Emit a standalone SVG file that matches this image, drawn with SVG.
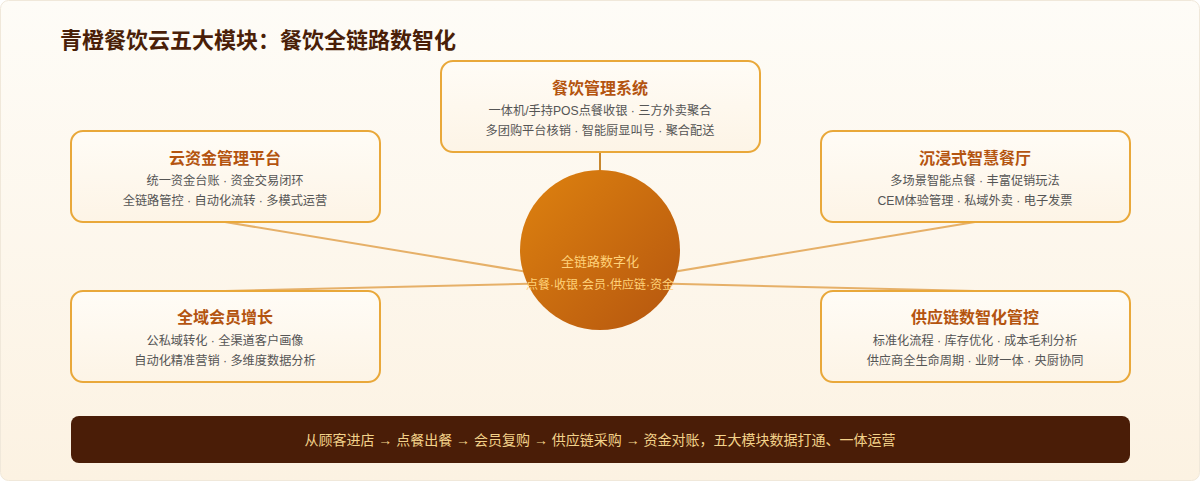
<svg xmlns="http://www.w3.org/2000/svg" width="1200" height="481" viewBox="0 0 1200 481">
<defs>
<linearGradient id="bg" x1="0" y1="0" x2="0" y2="1">
<stop offset="0" stop-color="#fefcf7"/>
<stop offset="1" stop-color="#fcf2e2"/>
</linearGradient>
<linearGradient id="hub" x1="0" y1="0" x2="1" y2="1">
<stop offset="0" stop-color="#de820f"/>
<stop offset="1" stop-color="#b5560f"/>
</linearGradient>
<linearGradient id="card" x1="0" y1="0" x2="0" y2="1">
<stop offset="0" stop-color="#fffcf6"/>
<stop offset="1" stop-color="#fdf4e6"/>
</linearGradient>
<style>
.card{fill:url(#card);stroke:#e9a83a;stroke-width:2}
.t{font-family:"Liberation Sans","Noto Sans CJK SC",sans-serif;text-anchor:middle}
.h{font-size:16px;font-weight:bold;fill:#b4540f}
.b{font-size:12.2px;fill:#555}
.ln{stroke:#e6b068;stroke-width:2;fill:none}
</style>
</defs>
<rect x="0.5" y="0.5" width="1199" height="480" rx="8" fill="url(#bg)" stroke="#f0e8da"/>
<text x="60" y="48" font-family="Liberation Sans,Noto Sans CJK SC,sans-serif" font-size="22" font-weight="bold" fill="#4a1f08">青橙餐饮云五大模块：餐饮全链路数智化</text>
<g id="connectors">
<line class="ln" x1="600" y1="152" x2="600" y2="172" style="stroke:#c8882e"/>
<line class="ln" x1="225" y1="222" x2="600" y2="284"/>
<line class="ln" x1="975" y1="222" x2="600" y2="284"/>
<line class="ln" x1="225" y1="291" x2="600" y2="282"/>
<line class="ln" x1="975" y1="291" x2="600" y2="282"/>
</g>
<g id="hub">
<circle cx="600" cy="250" r="80" fill="url(#hub)"/>
<text class="t" x="600" y="266" font-size="13" fill="#ffd27a">全链路数字化</text>
<text class="t" x="600" y="289" font-size="12" fill="#ffd27a">点餐·收银·会员·供应链·资金</text>
</g>
<g id="node-pos">
<rect class="card" x="441" y="61" width="319" height="91" rx="12"/>
<text class="t h" x="600" y="94">餐饮管理系统</text>
<text class="t b" x="600" y="115">一体机/手持POS点餐收银 · 三方外卖聚合</text>
<text class="t b" x="600" y="135">多团购平台核销 · 智能厨显叫号 · 聚合配送</text>
</g>
<g id="node-fund">
<rect class="card" x="71" y="131" width="309" height="91" rx="12"/>
<text class="t h" x="225" y="164">云资金管理平台</text>
<text class="t b" x="225" y="185">统一资金台账 · 资金交易闭环</text>
<text class="t b" x="225" y="205">全链路管控 · 自动化流转 · 多模式运营</text>
</g>
<g id="node-restaurant">
<rect class="card" x="821" y="131" width="309" height="91" rx="12"/>
<text class="t h" x="975" y="164">沉浸式智慧餐厅</text>
<text class="t b" x="975" y="185">多场景智能点餐 · 丰富促销玩法</text>
<text class="t b" x="975" y="205">CEM体验管理 · 私域外卖 · 电子发票</text>
</g>
<g id="node-member">
<rect class="card" x="71" y="291" width="309" height="91" rx="12"/>
<text class="t h" x="225" y="323">全域会员增长</text>
<text class="t b" x="225" y="345">公私域转化 · 全渠道客户画像</text>
<text class="t b" x="225" y="365">自动化精准营销 · 多维度数据分析</text>
</g>
<g id="node-supply">
<rect class="card" x="821" y="291" width="309" height="91" rx="12"/>
<text class="t h" x="975" y="323">供应链数智化管控</text>
<text class="t b" x="975" y="345">标准化流程 · 库存优化 · 成本毛利分析</text>
<text class="t b" x="975" y="365">供应商全生命周期 · 业财一体 · 央厨协同</text>
</g>
<g id="footer">
<rect x="71" y="416" width="1059" height="47" rx="8" fill="#4a1d07"/>
<text class="t" x="600" y="445" font-size="14" fill="#f3d28a">从顾客进店 → 点餐出餐 → 会员复购 → 供应链采购 → 资金对账，五大模块数据打通、一体运营</text>
</g>
</svg>
